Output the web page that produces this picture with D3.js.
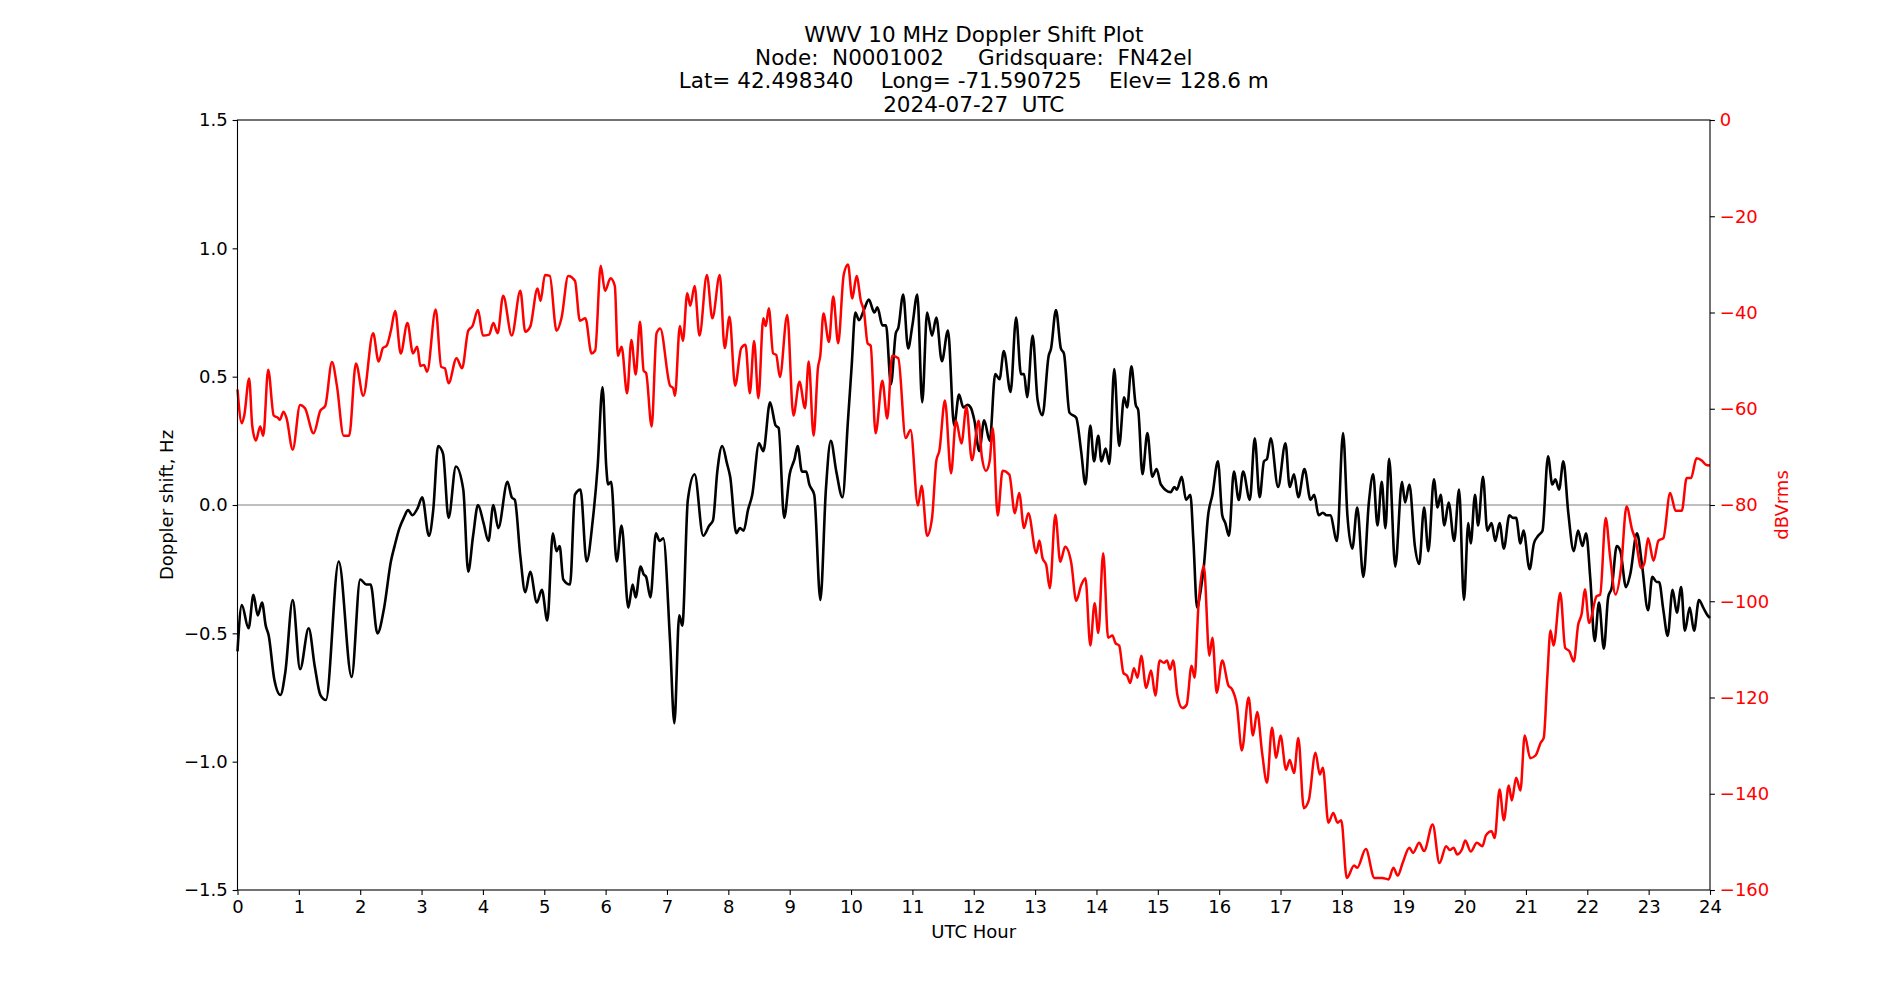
<!DOCTYPE html>
<html>
<head>
<meta charset="utf-8">
<script src="https://cdn.jsdelivr.net/npm/d3@7"></script>
<style>
  body { margin: 0; background: #fff; }
  svg text { font-family: "DejaVu Sans", sans-serif; }
</style>
</head>
<body>
<div id="chart"></div>
<script>
// title lines
var titleLines = [
  "WWV 10 MHz Doppler Shift Plot",
  "Node:  N0001002     Gridsquare:  FN42el",
  "Lat= 42.498340    Long= -71.590725    Elev= 128.6 m",
  "2024-07-27  UTC"
];

// ticks
var hourTicks = d3.range(0, 25, 1);
var hzTicks = [-1.5, -1.0, -0.5, 0.0, 0.5, 1.0, 1.5];
var dbTicks = [0, -20, -40, -60, -80, -100, -120, -140, -160];

// Doppler shift (black)
var dopplerHour = [0.00,0.07,0.18,0.26,0.33,0.40,0.46,0.51,0.60,0.70,0.78,0.90,1.02,1.16,1.26,1.35,1.44,1.65,1.86,2.00,
  2.10,2.17,2.28,2.39,2.50,2.56,2.64,2.71,2.78,2.85,2.94,3.01,3.12,3.19,3.27,3.35,3.44,3.56,3.68,3.76,
  3.84,3.92,4.01,4.09,4.17,4.25,4.40,4.47,4.52,4.61,4.69,4.77,4.88,4.96,5.05,5.14,5.20,5.25,5.31,5.42,
  5.50,5.59,5.69,5.79,5.87,5.95,6.01,6.04,6.09,6.18,6.26,6.37,6.44,6.49,6.57,6.62,6.66,6.73,6.82,6.88,
  6.94,7.05,7.12,7.20,7.25,7.34,7.45,7.59,7.69,7.75,7.82,7.90,7.98,8.03,8.13,8.19,8.25,8.32,8.39,8.50,
  8.57,8.68,8.77,8.82,8.91,9.00,9.08,9.13,9.20,9.27,9.32,9.40,9.50,9.59,9.67,9.76,9.86,9.95,10.01,10.07,
  10.13,10.21,10.29,10.38,10.43,10.51,10.57,10.65,10.73,10.77,10.85,10.93,11.00,11.08,11.16,11.24,11.32,11.39,11.48,11.58,
  11.68,11.76,11.83,11.90,11.95,12.01,12.09,12.17,12.26,12.35,12.42,12.49,12.60,12.69,12.77,12.82,12.87,12.96,13.04,13.12,
  13.22,13.26,13.34,13.42,13.47,13.56,13.67,13.75,13.82,13.90,13.96,14.03,14.08,14.15,14.21,14.29,14.37,14.45,14.50,14.57,
  14.64,14.68,14.75,14.83,14.91,14.98,15.05,15.21,15.27,15.31,15.39,15.46,15.53,15.58,15.64,15.70,15.75,15.82,15.89,15.98,
  16.05,16.10,16.16,16.24,16.32,16.39,16.50,16.58,16.66,16.73,16.78,16.84,16.96,17.08,17.15,17.22,17.29,17.39,17.49,17.55,
  17.62,17.69,17.75,17.81,17.92,18.02,18.09,18.17,18.25,18.35,18.44,18.51,18.58,18.65,18.71,18.77,18.87,18.98,19.03,19.10,
  19.19,19.26,19.34,19.41,19.50,19.56,19.61,19.67,19.74,19.83,19.91,19.99,20.06,20.10,20.17,20.22,20.30,20.37,20.44,20.50,
  20.57,20.64,20.73,20.79,20.84,20.91,20.96,21.06,21.13,21.20,21.27,21.36,21.43,21.48,21.54,21.61,21.69,21.78,21.85,21.92,
  21.98,22.05,22.12,22.19,22.27,22.34,22.40,22.48,22.54,22.63,22.70,22.81,22.89,22.99,23.06,23.13,23.17,23.24,23.31,23.39,
  23.46,23.53,23.59,23.67,23.74,23.82,23.89,23.96,24.00];
var dopplerHz = [-0.57,-0.39,-0.48,-0.35,-0.43,-0.38,-0.47,-0.51,-0.68,-0.74,-0.65,-0.37,-0.64,-0.48,-0.63,-0.74,-0.76,-0.22,-0.67,-0.29,
  -0.31,-0.31,-0.50,-0.40,-0.22,-0.16,-0.09,-0.05,-0.02,-0.04,-0.01,0.03,-0.12,-0.02,0.23,0.20,-0.05,0.15,0.06,-0.26,
  -0.12,0.00,-0.07,-0.14,0.00,-0.09,0.09,0.03,0.02,-0.20,-0.34,-0.26,-0.38,-0.33,-0.45,-0.11,-0.18,-0.16,-0.29,-0.31,
  0.04,0.06,-0.22,-0.06,0.15,0.46,0.15,0.08,0.09,-0.22,-0.08,-0.40,-0.31,-0.36,-0.24,-0.27,-0.28,-0.36,-0.11,-0.14,
  -0.13,-0.53,-0.85,-0.43,-0.47,0.02,0.12,-0.12,-0.08,-0.06,0.13,0.23,0.16,0.11,-0.11,-0.09,-0.10,-0.02,0.04,0.24,
  0.21,0.40,0.31,0.30,-0.05,0.12,0.18,0.23,0.13,0.13,0.08,0.04,-0.37,0.06,0.25,0.13,0.03,0.33,0.54,0.75,
  0.72,0.76,0.80,0.75,0.77,0.70,0.70,0.47,0.67,0.69,0.82,0.61,0.70,0.82,0.40,0.75,0.66,0.73,0.56,0.68,
  0.31,0.43,0.38,0.39,0.38,0.33,0.21,0.33,0.25,0.51,0.49,0.60,0.44,0.73,0.51,0.51,0.42,0.66,0.41,0.35,
  0.58,0.61,0.76,0.61,0.59,0.36,0.34,0.21,0.08,0.31,0.17,0.27,0.17,0.22,0.16,0.53,0.23,0.42,0.38,0.54,
  0.39,0.37,0.12,0.28,0.11,0.14,0.08,0.05,0.07,0.06,0.11,0.02,0.04,-0.14,-0.40,-0.33,-0.24,-0.04,0.04,0.17,
  -0.04,-0.07,-0.12,0.13,0.02,0.13,0.02,0.26,0.03,0.17,0.18,0.26,0.07,0.24,0.07,0.12,0.03,0.14,0.02,0.04,
  -0.04,-0.03,-0.04,-0.04,-0.14,0.28,-0.04,-0.17,-0.01,-0.28,0.01,0.12,-0.08,0.09,-0.09,0.18,-0.24,0.09,0.01,0.08,
  -0.16,-0.23,-0.01,-0.18,0.10,-0.01,0.04,-0.08,0.01,-0.14,0.06,-0.37,-0.07,-0.15,0.04,-0.08,0.11,-0.10,-0.07,-0.14,
  -0.07,-0.17,-0.04,-0.05,-0.05,-0.15,-0.10,-0.25,-0.15,-0.12,-0.10,0.19,0.08,0.10,0.06,0.17,-0.03,-0.18,-0.10,-0.16,
  -0.11,-0.29,-0.53,-0.38,-0.56,-0.36,-0.32,-0.16,-0.18,-0.32,-0.27,-0.11,-0.23,-0.41,-0.28,-0.30,-0.30,-0.41,-0.51,-0.33,
  -0.42,-0.32,-0.49,-0.40,-0.49,-0.37,-0.40,-0.43,-0.44];

// signal level (red), dBVrms
var levelHour = [0.00,0.07,0.11,0.19,0.24,0.30,0.37,0.42,0.50,0.59,0.66,0.69,0.75,0.80,0.90,1.02,1.10,1.24,1.35,1.43,
  1.54,1.62,1.73,1.82,1.93,2.05,2.21,2.30,2.37,2.43,2.50,2.57,2.66,2.77,2.86,2.93,2.98,3.04,3.09,3.23,
  3.32,3.38,3.44,3.57,3.66,3.76,3.83,3.92,4.00,4.10,4.17,4.24,4.33,4.47,4.61,4.69,4.77,4.89,4.94,5.01,
  5.09,5.20,5.28,5.39,5.50,5.58,5.67,5.77,5.83,5.92,5.99,6.08,6.15,6.20,6.26,6.35,6.42,6.49,6.56,6.62,
  6.66,6.75,6.83,6.89,7.05,7.10,7.13,7.21,7.26,7.33,7.38,7.45,7.53,7.65,7.74,7.86,7.94,8.02,8.11,8.21,
  8.28,8.35,8.42,8.49,8.57,8.61,8.66,8.73,8.78,8.84,8.96,9.06,9.16,9.25,9.31,9.39,9.46,9.50,9.55,9.64,
  9.71,9.79,9.88,9.95,10.02,10.09,10.16,10.21,10.27,10.32,10.40,10.51,10.59,10.67,10.77,10.89,10.97,11.09,11.15,11.24,
  11.32,11.39,11.44,11.53,11.63,11.71,11.80,11.88,11.97,12.08,12.13,12.20,12.26,12.31,12.39,12.47,12.58,12.67,12.74,12.82,
  12.89,13.02,13.07,13.12,13.18,13.24,13.33,13.41,13.49,13.59,13.67,13.75,13.82,13.90,13.97,14.03,14.11,14.19,14.26,14.31,
  14.37,14.44,14.50,14.55,14.61,14.67,14.73,14.81,14.89,14.96,15.03,15.10,15.15,15.20,15.25,15.32,15.40,15.47,15.55,15.60,
  15.66,15.75,15.84,15.89,15.96,16.05,16.15,16.21,16.29,16.37,16.48,16.55,16.62,16.70,16.78,16.86,16.93,17.00,17.09,17.15,
  17.22,17.29,17.38,17.46,17.57,17.64,17.69,17.78,17.86,17.93,17.99,18.08,18.20,18.25,18.39,18.53,18.66,18.76,18.84,18.91,
  18.99,19.10,19.16,19.26,19.34,19.48,19.59,19.70,19.76,19.82,19.88,19.96,20.01,20.10,20.20,20.29,20.35,20.44,20.49,20.57,
  20.64,20.72,20.77,20.84,20.91,20.98,21.07,21.16,21.24,21.29,21.35,21.40,21.45,21.56,21.64,21.71,21.78,21.85,21.91,21.96,
  22.03,22.15,22.21,22.30,22.37,22.46,22.55,22.64,22.73,22.79,22.88,22.93,22.99,23.08,23.16,23.24,23.35,23.44,23.54,23.62,
  23.69,23.78,23.87,23.93,24.00];
var levelDb = [-56,-63,-61.4,-53.7,-63.5,-66.6,-63.7,-65.6,-51.9,-61.4,-61.9,-62.3,-60.6,-62,-68.5,-59.2,-59.9,-65.1,-60.4,-59.4,
  -50.3,-55.2,-65.6,-65.6,-50.6,-57.3,-44.3,-50.2,-47.4,-46.9,-43.8,-39.7,-48.5,-42.2,-48.5,-47.1,-51.1,-50.9,-52.3,-39.4,
  -51.3,-51.6,-54.7,-49.5,-51.6,-43.8,-42.8,-39.5,-44.8,-44.6,-42.2,-44.3,-36.5,-44.8,-35.5,-44,-43,-35,-37.6,-32.2,
  -32.4,-43.8,-41.2,-32.4,-33.4,-41.7,-41.2,-48.5,-47.9,-30.3,-35.5,-32.9,-34.5,-49,-47.1,-56.8,-45.7,-52.9,-41.9,-52.1,
  -52.6,-63.7,-44.3,-43.3,-55.2,-55.7,-57.3,-42.8,-45.9,-36,-38.6,-34.5,-44.8,-32.2,-41.2,-32.2,-47.4,-40.9,-55.2,-47.4,
  -46.7,-56.8,-45.9,-57.8,-41.2,-42.8,-39.1,-48.5,-48.8,-53.4,-40.5,-61.4,-54.4,-59.9,-50.2,-65.6,-51.6,-48.8,-40.2,-46.1,
  -36.7,-46.4,-32.2,-30,-37.1,-32.4,-37.6,-39.7,-46.4,-46.9,-65.1,-54.2,-62,-49,-49.5,-66.1,-64.4,-80.1,-76,-86.4,
  -82.7,-70.8,-68.7,-58.3,-73.4,-62.5,-67.2,-59.6,-70.7,-62.5,-69.8,-72.9,-70.8,-64,-82.2,-72.9,-73.7,-81.7,-77.5,-84.8,
  -81.7,-90,-87.4,-91,-92.4,-97.3,-82,-91.8,-88.7,-92.1,-99.9,-96.7,-95.2,-109.2,-100.4,-106.6,-90,-107.6,-107.1,-108.7,
  -109.2,-114.9,-115.5,-117,-113.9,-115.9,-111.3,-118,-114.4,-119.6,-112.3,-112.8,-112.3,-114.2,-112.3,-119.6,-122.2,-121.5,-113.4,-115.9,
  -101.4,-92.6,-111.3,-107.6,-119,-112.3,-117.5,-118.3,-121.7,-131,-120,-127.9,-123,-131.5,-137.7,-126.3,-132.5,-127.9,-135,-133,
  -135.7,-128.4,-143,-141.4,-131.5,-136,-134.6,-146,-144,-146,-145.5,-157.5,-154.9,-155.4,-151.5,-157.5,-157.5,-157.8,-155.4,-157,
  -154.4,-151.2,-152.3,-150.2,-151.9,-146.4,-154.4,-150.9,-151.7,-151.2,-152.6,-151.5,-149.7,-152,-150.2,-150.9,-148.6,-147.8,-149.2,-139.1,
  -145.5,-138.3,-141.4,-136.7,-139.3,-127.9,-132.6,-132,-129.4,-128.4,-115.4,-106.1,-109.2,-98.3,-109.7,-110.4,-112.5,-105,-102.5,-97.5,
  -104.5,-99,-98.6,-82.7,-90.5,-98.6,-93.1,-80.3,-85.1,-87.4,-93.1,-92.1,-86.9,-91.6,-87.4,-86.9,-77.5,-81.2,-81.2,-74.4,
  -74.4,-70.3,-70.8,-71.6,-71.8];

/**
 * Draw the plot
 */
function drawPlot(){
  var W = 1900, H = 1000;
  var margin = {top: 120, right: 190, bottom: 110, left: 237.5};
  var w = W - margin.left - margin.right,
      h = H - margin.top - margin.bottom;
  var fs = 18;

  var svg = d3.select("#chart").append("svg")
    .attr("width", W)
    .attr("height", H);

  var x = d3.scaleLinear().domain([0, 24]).range([0, w]);
  var yL = d3.scaleLinear().domain([-1.5, 1.5]).range([h, 0]);
  var yR = d3.scaleLinear().domain([-160, 0]).range([h, 0]);

  var g = svg.append("g")
    .attr("transform", "translate(" + margin.left + "," + margin.top + ")");

  // zero line
  g.append("line")
    .attr("x1", 0).attr("x2", w)
    .attr("y1", yL(0)).attr("y2", yL(0))
    .attr("stroke", "#808080")
    .attr("stroke-width", 1.2);

  var dop = dopplerHour.map(function(d, i){ return [d, dopplerHz[i]]; });
  var lev = levelHour.map(function(d, i){ return [d, levelDb[i]]; });

  g.append("path")
    .datum(dop)
    .attr("fill", "none")
    .attr("stroke", "black")
    .attr("stroke-width", 2.6)
    .attr("stroke-linejoin", "round")
    .attr("d", d3.line()
      .x(function(d){ return x(d[0]); })
      .y(function(d){ return yL(d[1]); })
      .curve(d3.curveMonotoneX));

  g.append("path")
    .datum(lev)
    .attr("fill", "none")
    .attr("stroke", "red")
    .attr("stroke-width", 2.5)
    .attr("stroke-linejoin", "round")
    .attr("d", d3.line()
      .x(function(d){ return x(d[0]); })
      .y(function(d){ return yR(d[1]); })
      .curve(d3.curveMonotoneX));

  var minus = function(s){ return s.replace("-", "\u2212"); };

  // axes
  var xAxis = g.append("g")
    .attr("transform", "translate(0," + h + ")")
    .call(d3.axisBottom(x).tickValues(hourTicks).tickSize(4.9).tickPadding(4.9)
      .tickFormat(d3.format("d")));
  var lAxis = g.append("g")
    .call(d3.axisLeft(yL).tickValues(hzTicks).tickSize(4.9).tickPadding(4.9)
      .tickFormat(function(d){ return minus(d3.format(".1f")(d)); }));
  var rAxis = g.append("g")
    .attr("transform", "translate(" + w + ",0)")
    .call(d3.axisRight(yR).tickValues(dbTicks).tickSize(4.9).tickPadding(4.9)
      .tickFormat(function(d){ return minus(d3.format("d")(d)); }));

  [xAxis, lAxis, rAxis].forEach(function(a){
    a.select(".domain").remove();
    a.selectAll("line").attr("stroke", "black").attr("stroke-width", 1.1);
    a.selectAll("text")
      .attr("font-family", "DejaVu Sans")
      .attr("font-size", fs)
      .attr("fill", "black");
  });
  rAxis.selectAll("text").attr("fill", "red");

  // frame
  g.append("rect")
    .attr("width", w).attr("height", h)
    .attr("fill", "none")
    .attr("stroke", "black")
    .attr("stroke-width", 1.1);

  // labels
  svg.append("text")
    .attr("x", margin.left + w / 2)
    .attr("y", 938)
    .attr("text-anchor", "middle")
    .attr("font-size", fs)
    .text("UTC Hour");

  svg.append("text")
    .attr("transform", "translate(173," + (margin.top + h / 2) + ") rotate(-90)")
    .attr("text-anchor", "middle")
    .attr("font-size", fs)
    .text("Doppler shift, Hz");

  svg.append("text")
    .attr("transform", "translate(1788," + (margin.top + h / 2) + ") rotate(-90)")
    .attr("text-anchor", "middle")
    .attr("font-size", fs)
    .attr("fill", "red")
    .text("dBVrms");

  // title
  svg.append("g").selectAll("text")
    .data(titleLines)
    .enter()
    .append("text")
    .attr("x", margin.left + w / 2)
    .attr("y", function(d, i){ return 111.5 - (titleLines.length - 1 - i) * 23.3; })
    .attr("text-anchor", "middle")
    .attr("font-size", 21.5)
    .style("white-space", "pre")
    .text(function(d){ return d; });
}

drawPlot();
</script>
</body>
</html>
